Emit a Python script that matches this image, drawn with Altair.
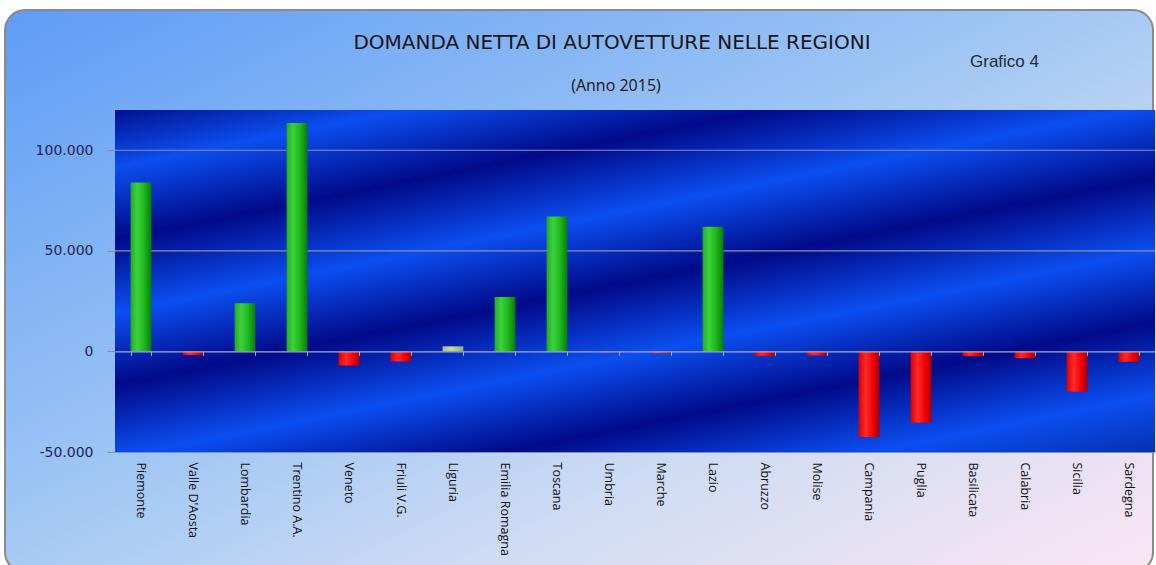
import altair as alt
import pandas as pd

# ---- data ----
regions = ["Piemonte", "Valle D'Aosta", "Lombardia", "Trentino A.A.", "Veneto",
           "Friuli V.G.", "Liguria", "Emilia Romagna", "Toscana", "Umbria",
           "Marche", "Lazio", "Abruzzo", "Molise", "Campania", "Puglia",
           "Basilicata", "Calabria", "Sicilia", "Sardegna"]
values = [84000, -1800, 24000, 113500, -7000, -5000, 2500, 27000, 67000, -500,
          -900, 62000, -2200, -2000, -42500, -35500, -2300, -3300, -20000, -5200]
y_ticks = [-50000, 0, 50000, 100000]
grid_values = [50000, 100000]
title_text = "DOMANDA NETTA DI AUTOVETTURE NELLE REGIONI"
subtitle_text = "(Anno 2015)"
tag_text = "Grafico 4"

df = pd.DataFrame({"regione": regions, "valore": values})
one = pd.DataFrame({"k": [0]})

W, H = 1040, 342
y_scale = alt.Scale(domain=[-50000, 120000], nice=False, zero=False)
x_scale = alt.Scale(paddingInner=0.6, paddingOuter=0.3)


def lin(stops, x1=0, y1=0, x2=1, y2=0):
    return alt.LinearGradient(
        gradient="linear",
        stops=[alt.GradientStop(color=c, offset=o) for o, c in stops],
        x1=x1, y1=y1, x2=x2, y2=y2)


panel_grad = lin([(0, "#5f9cf6"), (0.45, "#9fc6f4"), (0.7, "#cfdcf4"), (1, "#fbe6f3")],
                 0, 0, 1, 1)
dark, bright = "#010a88", "#0b4ef0"
plot_grad = lin([(0, "#03128f"), (0.105, bright), (0.236, dark), (0.369, bright),
                 (0.5, dark), (0.633, bright), (0.764, dark), (0.896, bright),
                 (1, "#0530b0")], 0, 0, 0.714, 1.174)
green_grad = lin([(0, "#22a822"), (0.3, "#3dd23d"), (0.65, "#1cb81c"), (1, "#0a7a0a")])
red_grad = lin([(0, "#d80000"), (0.35, "#ff2a2a"), (0.7, "#f20000"), (1, "#a80000")])
pale_grad = lin([(0, "#a9c27a"), (0.4, "#c9dc96"), (1, "#98b068")])

# outer rounded panel
panel = alt.Chart(one).mark_rect(
    fill=panel_grad, stroke="#8a8a8a", strokeWidth=2, cornerRadius=20
).encode(x=alt.value(-110), x2=alt.value(1038), y=alt.value(-100), y2=alt.value(462))

# plot background
plot_bg = alt.Chart(one).mark_rect(fill=plot_grad).encode(
    x=alt.value(0), x2=alt.value(W), y=alt.value(0), y2=alt.value(H))

grid = alt.Chart(pd.DataFrame({"g": grid_values})).mark_rule(
    color="#8c8fae", strokeWidth=1.2
).encode(y=alt.Y("g:Q", scale=y_scale, axis=None))

x_main = alt.X("regione:N", sort=regions, scale=x_scale, title=None,
               axis=alt.Axis(orient="bottom", labelAngle=90, labelAlign="left",
                             labelBaseline="middle",
                             labelFont="Open Sans", labelFontSize=12.5, labelColor="#111118",
                             ticks=False, domain=True, domainColor="#7f90b8",
                             labelPadding=10, grid=False, zindex=1))
x_none = alt.X("regione:N", sort=regions, scale=x_scale, axis=None)

y_main = alt.Y("valore:Q", scale=y_scale, title=None,
               axis=alt.Axis(orient="left", values=y_ticks, grid=False, domain=False,
                             tickSize=8, tickColor="#8a8c9a", labelPadding=14,
                             labelFont="DejaVu Sans", labelFontSize=14,
                             labelColor="#1a2757",
                             labelExpr="replace(replace(format(datum.value, ','), ',', '.'), '\u2212', '-')",
                             zindex=1))
y_none = alt.Y("valore:Q", scale=y_scale, axis=None)

green = alt.Chart(df).transform_filter("datum.valore >= 5000").mark_bar(
    color=green_grad).encode(x=x_main, y=y_main)
pale = alt.Chart(df).transform_filter("datum.valore > 0 && datum.valore < 5000").mark_bar(
    color=pale_grad).encode(x=x_none, y=y_none)
red = alt.Chart(df).transform_filter("datum.valore < 0").mark_bar(
    color=red_grad).encode(x=x_none, y=y_none)

# zero line with small ticks between categories (an axis moved up to value 0)
zero_pos = H * 120000 / 170000
zero_axis = alt.Chart(df).mark_point(opacity=0).encode(
    x=alt.X("regione:N", sort=regions, scale=x_scale, title=None,
            axis=alt.Axis(orient="bottom", offset=-(H - zero_pos), labels=False,
                          ticks=True, tickBand="extent",
                          tickSize=4, tickColor="#a3abd0", domain=True,
                          domainColor="#a3abd0", domainWidth=1.2, grid=False, zindex=1)),
    y=y_none)

title = alt.Chart(one).mark_text(
    text=title_text, font="DejaVu Sans", fontSize=20, color="#161616",
    align="center", baseline="alphabetic"
).encode(x=alt.value(497), y=alt.value(-61))
tag = alt.Chart(one).mark_text(
    text=tag_text, font="Liberation Sans", fontSize=17, color="#1c2a40",
    align="left", baseline="alphabetic"
).encode(x=alt.value(855), y=alt.value(-43))
subtitle = alt.Chart(one).mark_text(
    text=subtitle_text, font="Open Sans", fontSize=16, color="#161616",
    align="center", baseline="alphabetic"
).encode(x=alt.value(501), y=alt.value(-19))

chart = alt.layer(
    panel, plot_bg, grid, green, pale, red, zero_axis, title, tag, subtitle
).resolve_axis(x="independent", y="independent").properties(
    width=W, height=H,
    padding={"left": 115, "top": 110, "right": 1, "bottom": 113},
    autosize=alt.AutoSizeParams(type="none"),
).configure_view(strokeWidth=0).configure(background="white")

chart.save("out.html", embed_options={"renderer": "svg", "actions": False})
